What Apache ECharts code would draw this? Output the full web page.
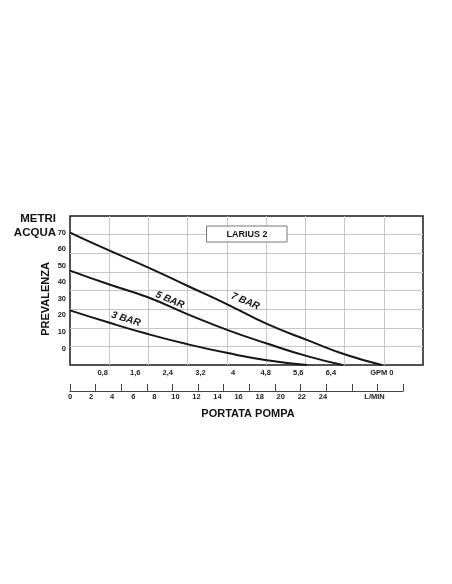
<!DOCTYPE html>
<html>
<head>
<meta charset="utf-8">
<title>Larius 2</title>
<script src="https://cdn.jsdelivr.net/npm/echarts@6/dist/echarts.min.js"></script>
<style>
html, body { margin: 0; padding: 0; background: #fff; }
#main { width: 452px; height: 584px; }
</style>
</head>
<body>
<div id="main"></div>
<script>
// curve: portata (GPM) -> prevalenza (metri)
var portata7 = [0, 0.93, 1.91, 2.89, 3.87, 4.83, 5.84, 6.79, 7.65];
var prevalenza7 = [70, 59.5, 49, 37.7, 26.5, 14.8, 4.9, -4, -10];
var portata5 = [0, 0.93, 1.91, 2.89, 3.87, 4.83, 5.84, 6.69];
var prevalenza5 = [47, 38.9, 30.9, 20.6, 11.1, 3.0, -4.8, -10];
var portata3 = [0, 0.93, 1.91, 2.89, 3.87, 4.83, 5.81];
var prevalenza3 = [23, 15.8, 8.7, 2.5, -2.8, -7.1, -10];

// tick labels
var metriTicks = [0, 10, 20, 30, 40, 50, 60, 70];
var gpmTicks = [0.8, 1.6, 2.4, 3.2, 4, 4.8, 5.6, 6.4];
var gpmUnit = 7.65;   // "GPM 0"
var lminTicks = [0, 2, 4, 6, 8, 10, 12, 14, 16, 18, 20, 22, 24];
var lminUnit = 28.9;  // "L/MIN"

// curve names and where their label sits (GPM, metri)
var curveNames = ['7 BAR', '5 BAR', '3 BAR'];
var labelAt = [[4.3, 28.5], [2.45, 29.3], [1.37, 17.8]];

var FONT = "'Liberation Sans', Arial, sans-serif";

function pairs(xs, ys) {
    var out = [];
    for (var i = 0; i < xs.length; i++) {
        out.push([xs[i], ys[i]]);
    }
    return out;
}

function curve(idx, xs, ys, rot) {
    return {
        name: curveNames[idx],
        type: 'line',
        xAxisIndex: 0,
        yAxisIndex: 0,
        smooth: 0.5,
        symbol: 'none',
        silent: true,
        lineStyle: { color: '#151515', width: 2 },
        data: pairs(xs, ys),
        markPoint: {
            symbol: 'circle',
            symbolSize: 0,
            silent: true,
            label: {
                show: true,
                position: 'inside',
                formatter: curveNames[idx],
                rotate: rot,
                color: '#151515',
                fontFamily: FONT,
                fontSize: 10,
                fontWeight: 'bold',
                fontStyle: 'italic'
            },
            data: [{ coord: labelAt[idx] }]
        }
    };
}

var chart = echarts.init(document.getElementById('main'));

var gridLine = { show: true, showMinLine: false, showMaxLine: false, lineStyle: { color: '#c6c6c6', width: 1 } };
var tickFont = { fontFamily: FONT, fontSize: 7.5, fontWeight: 'bold', color: '#222' };

var option = {
    backgroundColor: '#fff',
    animation: false,
    grid: [
        { left: 70, right: 29, top: 216, bottom: 219, show: true, borderColor: '#1a1a1a', borderWidth: 1.5, backgroundColor: 'transparent' },
        { left: 70, right: 49, top: 380, bottom: 193 }
    ]
};

option.xAxis = [
    {
        gridIndex: 0, type: 'value', position: 'bottom', min: 0, max: 8.66,
        axisLine: { show: false }, axisTick: { show: false }, splitLine: { show: false },
        axisLabel: Object.assign({
            customValues: gpmTicks.concat([gpmUnit]),
            margin: 4,
            formatter: function (v) {
                if (v === gpmUnit) return 'GPM 0';
                return String(v).replace('.', ',');
            }
        }, tickFont)
    },
    {
        gridIndex: 0, type: 'value', position: 'top', min: 0, max: 9, interval: 1,
        axisLine: { show: false }, axisTick: { show: false }, axisLabel: { show: false },
        splitLine: gridLine
    },
    {
        gridIndex: 1, type: 'value', position: 'bottom', min: 0, max: 31.6,
        axisLine: { show: true, lineStyle: { color: '#444', width: 1 } },
        axisTick: { show: false }, splitLine: { show: false },
        axisLabel: Object.assign({
            customValues: lminTicks.concat([lminUnit]),
            margin: 2,
            formatter: function (v) {
                if (v === lminUnit) return 'L/MIN';
                return String(v);
            }
        }, tickFont)
    },
    {
        gridIndex: 1, type: 'value', position: 'bottom', min: 0, max: 13, interval: 1,
        axisLine: { show: false },
        axisTick: { show: true, inside: true, length: 7, lineStyle: { color: '#444', width: 1 } },
        axisLabel: { show: false }, splitLine: { show: false }
    }
];

option.yAxis = [
    {
        gridIndex: 0, type: 'value', position: 'left', min: -10, max: 80, interval: 10,
        axisLine: { show: false }, axisTick: { show: false }, splitLine: { show: false },
        axisLabel: Object.assign({ customValues: metriTicks, margin: 4 }, tickFont)
    },
    {
        gridIndex: 0, type: 'value', position: 'right', min: 0, max: 8, interval: 1,
        axisLine: { show: false }, axisTick: { show: false }, axisLabel: { show: false },
        splitLine: gridLine
    },
    { gridIndex: 1, type: 'value', show: false, min: 0, max: 1 }
];

option.series = [
    curve(0, portata7, prevalenza7, -23),
    curve(1, portata5, prevalenza5, -22),
    curve(2, portata3, prevalenza3, -17)
];

// box and titles
option.graphic = [
    { type: 'rect', z: 100, shape: { x: 206.5, y: 226, width: 80.5, height: 16 }, style: { fill: '#fff', stroke: '#777', lineWidth: 1 } },
    { type: 'text', z: 101, x: 247, y: 234.3, style: { text: 'LARIUS 2', fill: '#151515', font: 'bold 9px ' + FONT, align: 'center', verticalAlign: 'middle' } },
    { type: 'text', z: 100, x: 56, y: 219, style: { text: 'METRI', fill: '#111', font: 'bold 11.5px ' + FONT, align: 'right', verticalAlign: 'middle' } },
    { type: 'text', z: 100, x: 56, y: 233, style: { text: 'ACQUA', fill: '#111', font: 'bold 11.5px ' + FONT, align: 'right', verticalAlign: 'middle' } },
    { type: 'text', z: 100, x: 46, y: 299, rotation: Math.PI / 2, style: { text: 'PREVALENZA', fill: '#111', font: 'bold 11px ' + FONT, align: 'center', verticalAlign: 'middle' } },
    { type: 'text', z: 100, x: 248, y: 414, style: { text: 'PORTATA POMPA', fill: '#111', font: 'bold 11px ' + FONT, align: 'center', verticalAlign: 'middle' } }
];

chart.setOption(option);
</script>
</body>
</html>
